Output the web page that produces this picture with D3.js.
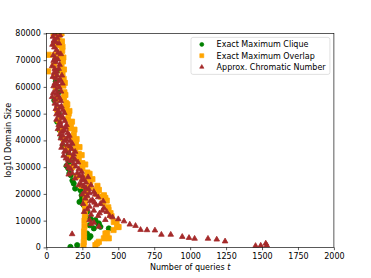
<!DOCTYPE html>
<html>
<head>
<meta charset="utf-8">
<script src="https://cdn.jsdelivr.net/npm/d3@7"></script>
<style>
  html, body { margin: 0; padding: 0; background: #fff; }
  svg { display: block; font-family: "DejaVu Sans", sans-serif; }
</style>
</head>
<body>
<svg id="chart" width="371" height="278"></svg>
<script>
// ---- data ----
const xTicks = [0, 250, 500, 750, 1000, 1250, 1500, 1750, 2000];
const yTicks = [0, 10000, 20000, 30000, 40000, 50000, 60000, 70000, 80000];
const seriesNames = ["Exact Maximum Clique", "Exact Maximum Overlap", "Approx. Chromatic Number"];
const seriesColors = ["green", "orange", "brown"];

const cliqueT = [86, 70, 60, 75, 65, 86, 55, 86, 75, 90, 105, 115, 155, 155, 155, 153, 160, 170, 181, 190,
  237, 249, 260, 283, 307, 341, 365, 376, 330, 283, 307, 434, 167, 214, 297, 272, 300, 362, 230, 245, 200,
  150, 175, 200, 140];
const cliqueV = [80000, 76000, 70000, 66000, 62000, 58000, 55000, 50100, 47000, 44000, 41000, 38000, 37400, 34500, 31500, 29500, 27700, 27000, 25000, 23900,
  21400, 18300, 15800, 13300, 10800, 10200, 9000, 7700, 7100, 5200, 4200, 7100, 200, 860, 3600, 11300, 8300, 8600, 17000, 19500, 22000,
  36000, 33000, 38500, 30500];

const overlapT = [50, 85, 105, 55, 95, 108, 60, 100, 110, 16, 12, 52, 105, 115, 60, 112, 120, 65, 118, 125,
  70, 122, 135, 75, 140, 155, 85, 150, 170, 100, 165, 190, 120, 185, 205, 140, 200, 225, 160, 225, 250,
  180, 250, 285, 210, 275, 305, 245, 300, 340, 278, 350, 380, 410,
  275, 272, 268, 270, 268, 265, 265, 262, 262, 260, 258,
  395, 430, 446, 453, 469, 488, 502, 492, 467, 411, 423, 434, 400, 365, 341, 353, 432,
  75, 112, 118, 122, 128, 132, 145, 160, 178, 195, 210, 230, 245, 270, 300, 320, 355, 365, 400, 420];
const overlapV = [80000, 79000, 80000, 76000, 75500, 77000, 72000, 71500, 73500, 72000, 65800, 68000, 68000, 69500, 64000, 65000, 63000, 60000, 60500, 58000,
  55500, 56000, 54000, 51500, 52000, 50000, 47500, 48000, 46000, 44000, 44500, 42000, 40500, 40000, 38500, 37000, 36500, 35000, 33500, 33000, 31500,
  30000, 29500, 28000, 26500, 26000, 24500, 23000, 22500, 21500, 22000, 20000, 19000, 18500,
  20000, 18000, 16000, 14000, 12000, 10000, 8000, 6000, 4000, 2000, 500,
  16500, 15000, 12800, 11700, 9500, 9400, 7600, 7700, 6500, 5200, 5300, 3400, 3400, 2100, 860, 1500, 14000,
  78000, 75000, 71000, 66500, 61500, 57000, 53500, 51000, 47000, 44000, 40500, 37500, 34500, 31000, 27500, 25500, 23000, 21500, 19500, 17500];

const chromaticT = [45, 60, 75, 95, 42, 55, 70, 88, 48, 62, 80, 100, 40, 58, 72, 92, 44, 65, 85, 108,
  50, 68, 90, 112, 40, 60, 82, 100, 65, 85, 105, 125, 70, 95, 118, 140, 80, 110, 135, 160,
  100, 125, 150, 180, 105, 135, 165, 200, 120, 150, 185, 220, 140, 170, 205, 245, 155, 230, 260, 290,
  240, 275, 310, 330, 250, 285, 320, 360, 395, 255, 300, 345, 400, 420, 262, 310, 370, 440, 460,
  300, 330, 410, 500, 540, 365, 310, 580, 620, 655, 700, 755, 800, 865,
  945, 992, 1031, 1124, 1185, 1243, 1455, 1491, 1526, 1533, 179,
  52, 66, 82, 50, 66, 86, 53, 75, 96, 58, 78, 102, 48, 70, 92, 58, 75, 95, 115, 70,
  90, 108, 128, 85, 105, 125, 148, 95, 115, 140, 165, 112, 145, 175, 125, 160, 190, 135, 170, 200,
  155, 190, 225, 180, 215, 250, 200, 245, 275, 225, 260, 295, 265, 300, 340, 270, 305, 335, 375, 285,
  330, 360, 390];
const chromaticV = [79000, 80000, 78500, 79500, 76000, 75000, 74000, 76500, 72000, 71000, 70500, 72500, 68000, 67000, 66000, 68500, 64000, 63500, 62500, 64500,
  60500, 59000, 60000, 61500, 56500, 55500, 57000, 55000, 52000, 51000, 53000, 50500, 48000, 47000, 48500, 46000, 44500, 43500, 45000, 42000,
  41000, 40000, 41500, 39000, 37500, 36500, 38000, 36000, 34500, 33000, 34000, 32000, 31000, 29500, 30500, 28500, 27500, 27000, 25500, 26500,
  24000, 22500, 23500, 21000, 20000, 19500, 18000, 19000, 17500, 16500, 15500, 16000, 15000, 13500, 13500, 12500, 13000, 12000, 11500,
  10500, 9500, 10500, 10800, 10000, 8000, 9000, 8800, 8300, 6800, 6700, 6600, 5000, 5000,
  4200, 3800, 3500, 3500, 3200, 2500, 800, 900, 1700, 1000, 5200,
  77500, 77000, 73000, 70000, 69500, 67000, 65500, 64500, 63000, 61500, 61000, 58500, 58000, 57500, 56000, 54000, 53500, 52500, 51500, 50000,
  49500, 49000, 47500, 46000, 45500, 44000, 43000, 42500, 42000, 40500, 40000, 39000, 38500, 37000, 36000, 35500, 35000, 33500, 32500, 33000,
  30000, 31500, 29500, 28000, 28000, 27000, 26000, 25500, 24500, 23500, 23000, 22000, 21000, 20500, 20000, 18500, 17500, 17000, 16500, 14500,
  14000, 12000, 14000];

// ---- layout ----
const mLeft = 46.4, mRight = 333.9, mTop = 33.4, mBottom = 247.4;
const svg = d3.select("#chart");

const x = d3.scaleLinear().domain([0, 2000]).range([mLeft, mRight]);
const y = d3.scaleLinear().domain([0, 80000]).range([mBottom, mTop]);

svg.append("defs").append("clipPath").attr("id", "plotclip")
  .append("rect").attr("x", mLeft).attr("y", mTop).attr("width", mRight - mLeft).attr("height", mBottom - mTop);

const plot = svg.append("g").attr("clip-path", "url(#plotclip)");

const sym = [d3.symbolCircle, d3.symbolSquare, d3.symbolTriangle];
const markerPx = 5.2;
function symPath(k, size) {
  let area;
  if (k === 0) area = Math.PI * (size / 2) * (size / 2);
  else if (k === 1) area = size * size;
  else area = (Math.sqrt(3) / 4) * size * size * 1.15;
  return d3.symbol().type(sym[k]).size(area)();
}

const sets = [[cliqueT, cliqueV], [overlapT, overlapV], [chromaticT, chromaticV]];
sets.forEach(([ts, vs], k) => {
  const pts = ts.map((t, i) => [t, vs[i]]);
  plot.append("g").selectAll("path").data(pts).join("path")
    .attr("d", symPath(k, markerPx))
    .attr("transform", d => `translate(${x(d[0])},${y(d[1]) + (k === 2 ? 0.6 : 0)})`)
    .attr("fill", seriesColors[k])
    .attr("stroke", seriesColors[k])
    .attr("stroke-width", 0.8);
});

// ---- axes ----
const xAxis = d3.axisBottom(x).tickValues(xTicks).tickSize(2.8).tickPadding(2.8).tickFormat(d3.format("d"));
const yAxis = d3.axisLeft(y).tickValues(yTicks).tickSize(2.8).tickPadding(2.8).tickFormat(d3.format("d"));

const gx = svg.append("g").attr("transform", `translate(0,${mBottom})`).call(xAxis);
const gy = svg.append("g").attr("transform", `translate(${mLeft},0)`).call(yAxis);
[gx, gy].forEach(g => {
  g.select(".domain").remove();
  g.selectAll("line").attr("stroke", "#000").attr("stroke-width", 0.65);
  g.selectAll("text").attr("font-size", 8).attr("fill", "#000").attr("font-family", "DejaVu Sans");
});

svg.append("rect").attr("x", mLeft).attr("y", mTop).attr("width", mRight - mLeft).attr("height", mBottom - mTop)
  .attr("fill", "none").attr("stroke", "#000").attr("stroke-width", 0.65);

const xl = svg.append("text").attr("x", (mLeft + mRight) / 2).attr("y", 269.5)
  .attr("text-anchor", "middle").attr("font-size", 8).attr("fill", "#000");
xl.append("tspan").text("Number of queries ");
xl.append("tspan").attr("font-style", "italic").text("t");

svg.append("text").attr("transform", `translate(10.5,${(mTop + mBottom) / 2}) rotate(-90)`)
  .attr("text-anchor", "middle").attr("font-size", 8).attr("fill", "#000").text("log10 Domain Size");

// ---- legend ----
const lg = svg.append("g");
const lx = 191, ly = 37.4, lw = 138.9, lh = 37;
lg.append("rect").attr("x", lx).attr("y", ly).attr("width", lw).attr("height", lh)
  .attr("rx", 2).attr("fill", "#fff").attr("fill-opacity", 0.8).attr("stroke", "#d0d0d0").attr("stroke-width", 0.65);
seriesNames.forEach((name, k) => {
  const cy = ly + 7 + k * 11.3;
  lg.append("path").attr("d", symPath(k, 4.0))
    .attr("transform", `translate(${lx + 10.8},${cy})`)
    .attr("fill", seriesColors[k]).attr("stroke", seriesColors[k]).attr("stroke-width", 0.6);
  lg.append("text").attr("x", lx + 25.6).attr("y", cy).attr("dy", "0.35em")
    .attr("font-size", 8).attr("fill", "#000").text(name);
});
</script>
</body>
</html>
